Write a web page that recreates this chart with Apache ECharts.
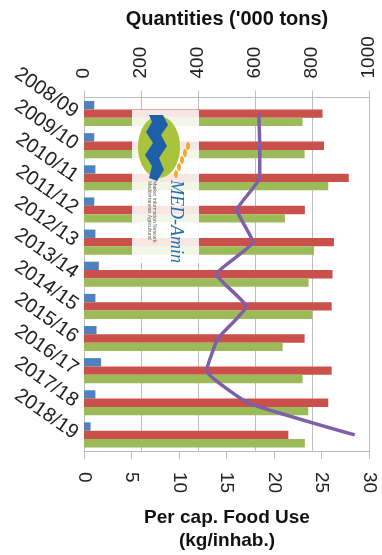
<!DOCTYPE html>
<html>
<head>
<meta charset="utf-8">
<script src="https://cdn.jsdelivr.net/npm/echarts@6/dist/echarts.min.js"></script>
<style>
html,body{margin:0;padding:0;background:#fff;}
#c{width:382px;height:555px;}
</style>
</head>
<body>
<div id="c"></div>
<script>
const categories = ['2008/09','2009/10','2010/11','2011/12','2012/13','2013/14','2014/15','2015/16','2016/17','2017/18','2018/19'];
const blueValues = [36, 36, 40, 36, 40, 52, 40, 44, 60, 40, 23];
const redValues = [837, 842, 929, 775, 877, 872, 869, 774, 869, 857, 717];
const greenValues = [767, 774, 857, 705, 807, 788, 801, 697, 767, 787, 775];
const perCapValues = [18.4, 18.5, 18.5, 16.1, 17.8, 13.9, 17.1, 14.1, 12.9, 17.3, 28.5];
const qtyTicks = [0, 200, 400, 600, 800, 1000];
const perCapTicks = [0, 5, 10, 15, 20, 25, 30];
const topTitle = "Quantities ('000 tons)";
const bottomTitle = ['Per cap. Food Use', '(kg/inhab.)'];

const FONT = 'Liberation Sans';
const gridCol = '#bdbdbd';
const chart = echarts.init(document.getElementById('c'), null, {renderer: 'canvas'});

const option = {
  animation: false,
  backgroundColor: '#ffffff',
  textStyle: {fontFamily: FONT},
  grid: {left: 84, right: 13, top: 97.5, bottom: 104, containLabel: false},
  xAxis: [
    {
      type: 'value', position: 'top', min: qtyTicks[0], max: qtyTicks[qtyTicks.length - 1], interval: 200,
      axisLine: {show: true, lineStyle: {color: gridCol, width: 1}},
      axisTick: {show: true, length: 7, lineStyle: {color: gridCol}},
      splitLine: {show: true, lineStyle: {color: gridCol, width: 1}},
      axisLabel: {rotate: -90, fontSize: 19, color: '#222', margin: 19, fontFamily: FONT,
        formatter: function (v) { return String(v); }}
    },
    {
      type: 'value', position: 'bottom', min: perCapTicks[0], max: perCapTicks[perCapTicks.length - 1], interval: 5,
      axisLine: {show: true, lineStyle: {color: gridCol, width: 1}},
      axisTick: {show: true, length: 8, lineStyle: {color: gridCol}},
      splitLine: {show: false},
      axisLabel: {rotate: -90, fontSize: 19, color: '#222', margin: 21, fontFamily: FONT,
        formatter: function (v) { return String(v); }}
    }
  ],
  yAxis: {
    type: 'category', data: categories, inverse: true,
    axisLine: {show: true, lineStyle: {color: gridCol}},
    axisTick: {show: false},
    axisLabel: {rotate: -35, fontSize: 20, color: '#222', margin: 8, interval: 0, hideOverlap: false, fontFamily: FONT}
  },
  series: [
    {name: 'Imports', type: 'bar', xAxisIndex: 0, data: blueValues, barGap: 0, barCategoryGap: '22%', itemStyle: {color: '#4F81BD'}},
    {name: 'Production', type: 'bar', xAxisIndex: 0, data: redValues, barGap: 0, barCategoryGap: '22%', itemStyle: {color: '#C9504B'}},
    {name: 'Domestic use', type: 'bar', xAxisIndex: 0, data: greenValues, barGap: 0, barCategoryGap: '22%', itemStyle: {color: '#9BBB59'}},
    {name: 'Per cap. food use', type: 'line', xAxisIndex: 1, data: perCapValues, smooth: 0.12, symbol: 'none', z: 20,
      lineStyle: {color: '#7F5FA8', width: 3.5}}
  ],
  graphic: [
    {type: 'text', x: 227, y: 19, z: 30,
      style: {text: topTitle, font: 'bold 20px "Liberation Sans"', fill: '#111', textAlign: 'center', textVerticalAlign: 'middle'}},
    {type: 'text', x: 227, y: 518, z: 30,
      style: {text: bottomTitle[0], font: 'bold 19px "Liberation Sans"', fill: '#111', textAlign: 'center', textVerticalAlign: 'middle'}},
    {type: 'text', x: 227, y: 541, z: 30,
      style: {text: bottomTitle[1], font: 'bold 19px "Liberation Sans"', fill: '#111', textAlign: 'center', textVerticalAlign: 'middle'}},
    {type: 'group', z: 10, children: [
      {type: 'rect', shape: {x: 132, y: 110, width: 67, height: 153}, style: {fill: 'rgba(255,255,255,0.86)'}, z: 10},
      {type: 'ellipse', shape: {cx: 159, cy: 147, rx: 21, ry: 31}, style: {fill: '#A9C43C'}, z: 11},
      {type: 'polygon', shape: {points: [[149,115],[163,115],[168,125],[161,135],[167,146],[159,158],[164,170],[157,181],[149,178],[152,166],[145,155],[153,143],[146,132],[152,122]]}, style: {fill: '#1D5FA8'}, z: 12},
      {type: 'ellipse', shape: {cx: 188, cy: 146, rx: 2, ry: 4}, style: {fill: '#F0A830'}, z: 12},
      {type: 'ellipse', shape: {cx: 185, cy: 153, rx: 2, ry: 4}, style: {fill: '#F0A830'}, z: 12},
      {type: 'ellipse', shape: {cx: 182, cy: 160, rx: 2, ry: 4}, style: {fill: '#F0A830'}, z: 12},
      {type: 'ellipse', shape: {cx: 179, cy: 167, rx: 2, ry: 4}, style: {fill: '#F0A830'}, z: 12},
      {type: 'ellipse', shape: {cx: 176, cy: 174, rx: 2, ry: 4}, style: {fill: '#F0A830'}, z: 12},
      {type: 'text', x: 176, y: 180, rotation: -Math.PI / 2, z: 12,
        style: {text: 'MED-Amin', font: 'italic 18px "Liberation Serif"', fill: '#1F6FB5', textAlign: 'left', textVerticalAlign: 'middle'}},
      {type: 'text', x: 149, y: 181, rotation: -Math.PI / 2, z: 12,
        style: {text: 'Mediterranean Agricultural', font: '5px "Liberation Sans"', fill: '#666', textAlign: 'left', textVerticalAlign: 'middle'}},
      {type: 'text', x: 154, y: 181, rotation: -Math.PI / 2, z: 12,
        style: {text: 'Market Information Network', font: '5px "Liberation Sans"', fill: '#666', textAlign: 'left', textVerticalAlign: 'middle'}}
    ]}
  ]
};
chart.setOption(option);
</script>
</body>
</html>
